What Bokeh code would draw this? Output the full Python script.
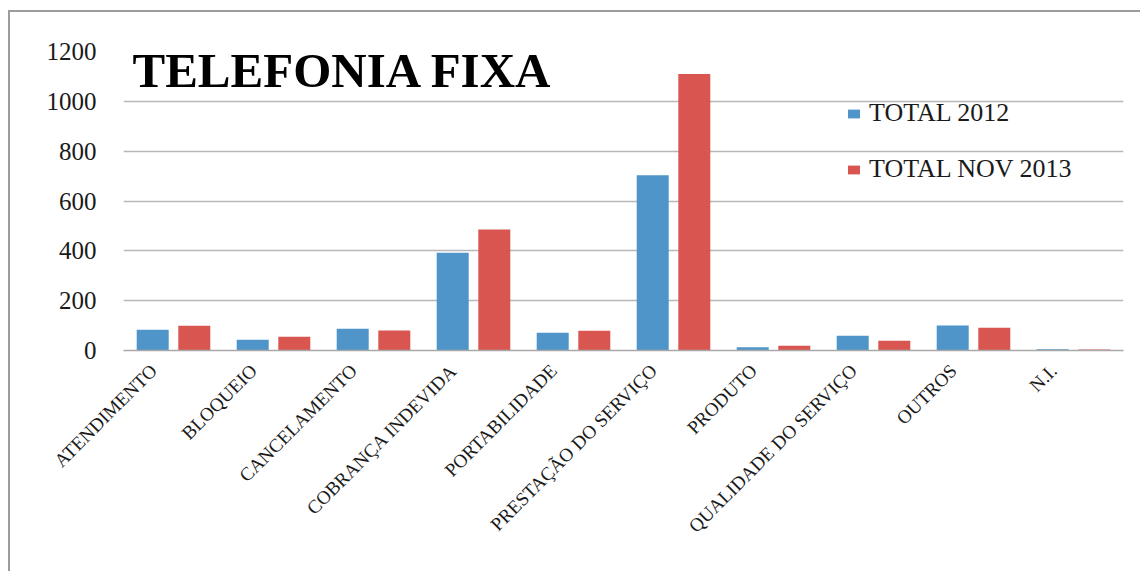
import math
from bokeh.plotting import figure
from bokeh.models import (ColumnDataSource, Range1d, FixedTicker,
                          Legend, LegendItem, Label, LinearAxis)
from bokeh.transform import dodge
from bokeh.embed import file_html
from bokeh.resources import INLINE

categories = ["ATENDIMENTO", "BLOQUEIO", "CANCELAMENTO", "COBRANÇA INDEVIDA",
              "PORTABILIDADE", "PRESTAÇÃO DO SERVIÇO", "PRODUTO",
              "QUALIDADE DO SERVIÇO", "OUTROS", "N.I."]
total_2012 = [83, 43, 87, 392, 71, 703, 13, 59, 100, 5]
total_nov_2013 = [99, 55, 80, 486, 79, 1110, 19, 39, 91, 4]
y_ticks = [0, 200, 400, 600, 800, 1000, 1200]
series_names = ["TOTAL 2012", "TOTAL NOV 2013"]
title_text = "TELEFONIA FIXA"

BLUE = "#4f95c9"
RED = "#d95650"
SERIF = "Liberation Serif"

n = len(categories)
idx = list(range(n))
src = ColumnDataSource(data=dict(cat=categories, xc=[i + 0.5 for i in idx],
                                 a=total_2012, b=total_nov_2013))

p = figure(x_range=Range1d(0, n), y_range=Range1d(0, 1200),
           width=1132, height=561, output_backend="svg", toolbar_location=None,
           min_border_left=113, min_border_right=19, min_border_top=39,
           min_border_bottom=223)
p.styles = {"margin-left": "8px", "margin-top": "10px",
            "border-top": "2px solid #9c9c9c", "border-left": "2px solid #9c9c9c",
            "border-right": "0px none", "border-bottom": "0px none"}
p.outline_line_color = None
p.background_fill_color = "white"
p.border_fill_color = "white"

r1 = p.vbar(x=dodge("xc", -0.208), top="a", width=0.32,
            source=src, fill_color=BLUE, line_color=None)
r2 = p.vbar(x=dodge("xc", 0.208), top="b", width=0.32,
            source=src, fill_color=RED, line_color=None)

# y axis
p.yaxis.ticker = FixedTicker(ticks=y_ticks)
p.yaxis.axis_line_color = None
p.yaxis.major_tick_line_color = None
p.yaxis.minor_tick_line_color = None
p.yaxis.major_label_standoff = 21
p.yaxis.major_label_text_font = SERIF
p.yaxis.major_label_text_font_size = "25px"
p.yaxis.major_label_text_color = "#1a1a1a"

# category axis: labels sit slightly left of the category centre
p.xaxis.visible = False
shift = 0.2
p.extra_x_ranges = {"lab": Range1d(-0.5 + shift, n - 0.5 + shift)}
xa = LinearAxis(x_range_name="lab", ticker=FixedTicker(ticks=idx),
                major_label_overrides={i: c for i, c in enumerate(categories)})
xa.axis_line_color = "#a8a8a8"
xa.axis_line_width = 1.5
xa.major_tick_line_color = None
xa.minor_tick_line_color = None
xa.major_label_orientation = math.pi / 4
xa.major_label_standoff = 11
xa.major_label_text_font = SERIF
xa.major_label_text_font_size = "19px"
xa.major_label_text_color = "#1a1a1a"
p.add_layout(xa, "below")

p.xgrid.grid_line_color = None
p.ygrid.grid_line_color = "#b8b8b8"
p.ygrid.grid_line_width = 1.5

# title inside plot
p.add_layout(Label(x=0.09, y=1012, text=title_text, text_font=SERIF,
                   text_font_style="bold", text_font_size="49px",
                   text_baseline="bottom", text_color="black"))

legend = Legend(items=[LegendItem(label=series_names[0], renderers=[r1]),
                       LegendItem(label=series_names[1], renderers=[r2])],
                location=(723, 166), orientation="vertical",
                glyph_width=15, glyph_height=11, label_standoff=8,
                label_height=26, spacing=26, padding=0, margin=0,
                border_line_color=None, background_fill_alpha=0,
                label_text_font=SERIF, label_text_font_size="26px",
                label_text_color="#1a1a1a")
p.add_layout(legend)

open("out.html", "w").write(file_html(p, INLINE))
